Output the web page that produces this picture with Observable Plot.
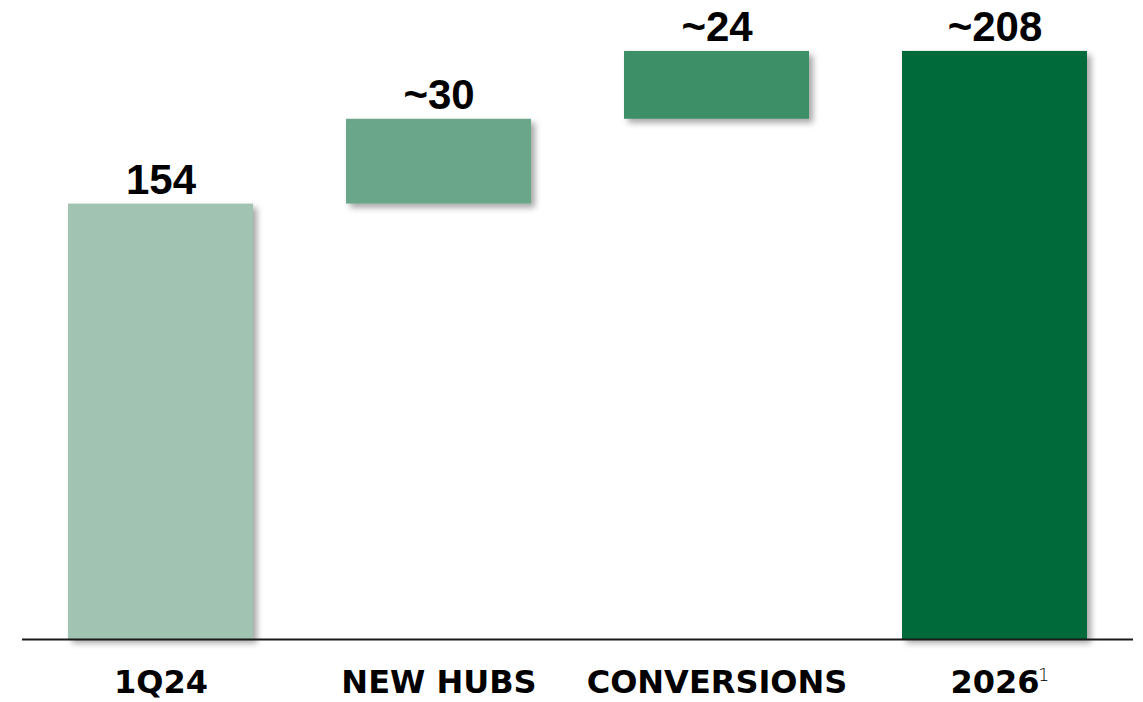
<!DOCTYPE html>
<html>
<head>
<meta charset="utf-8">
<script src="https://cdn.jsdelivr.net/npm/d3@7"></script>
<script src="https://cdn.jsdelivr.net/npm/@observablehq/plot@0.6"></script>
<style>
  html, body { margin: 0; padding: 0; background: #fff; }
  #chart { width: 1143px; height: 702px; }
</style>
</head>
<body>
<div id="chart"></div>
<script>
const categories = ["1Q24", "NEW HUBS", "CONVERSIONS", "2026"];
const starts = [0, 154, 184, 0];
const ends = [154, 184, 208, 208];
const valueLabels = ["154", "~30", "~24", "~208"];
const colors = ["#a1c3b1", "#6aa689", "#3e8f67", "#066b3a"];
const footnote = "1";

const data = categories.map((c, i) => ({
  cat: c, y1: starts[i], y2: ends[i], label: valueLabels[i], color: colors[i]
}));

const chart = Plot.plot({
  width: 1143,
  height: 702,
  marginLeft: 22,
  marginRight: 10,
  marginTop: 17,
  marginBottom: 63,
  x: { domain: categories, paddingInner: 0.3345, paddingOuter: 0.165, label: null },
  y: { domain: [0, 220], axis: null },
  style: { background: "#ffffff", overflow: "visible" },
  marks: [
    Plot.barY(data, { x: "cat", y1: "y1", y2: "y2", fill: "color" }),
    Plot.ruleY([0], { stroke: "#1a1a1a", strokeWidth: 2 }),
    Plot.text(data, {
      x: "cat", y: "y2", text: "label", lineAnchor: "bottom", dy: -10,
      fontSize: 42, fontWeight: "bold", fontFamily: "Liberation Sans, Arial, sans-serif", fill: "#000"
    }),
    Plot.axisX({
      tickSize: 0, tickPadding: 31, fontSize: 32, fontWeight: "bold",
      fontFamily: "DejaVu Sans, sans-serif", fill: "#000", label: null
    }),
    Plot.text([categories[3]], {
      x: d => d, y: 0, text: () => footnote, dx: 43, dy: 29,
      textAnchor: "start", lineAnchor: "top", fontSize: 18, fontFamily: "DejaVu Sans, sans-serif",
      fontWeight: 300, fill: "#000"
    })
  ]
});

const svg = d3.select(chart);
const defs = svg.insert("defs", ":first-child");
const f = defs.append("filter").attr("id", "shadow").attr("x", "-10%").attr("y", "-10%").attr("width", "130%").attr("height", "130%");
f.append("feDropShadow").attr("dx", 4).attr("dy", 4).attr("stdDeviation", 3)
  .attr("flood-color", "#000").attr("flood-opacity", 0.35);
svg.selectAll("g[aria-label='bar'] rect").attr("filter", "url(#shadow)");

document.getElementById("chart").appendChild(chart);
</script>
</body>
</html>
